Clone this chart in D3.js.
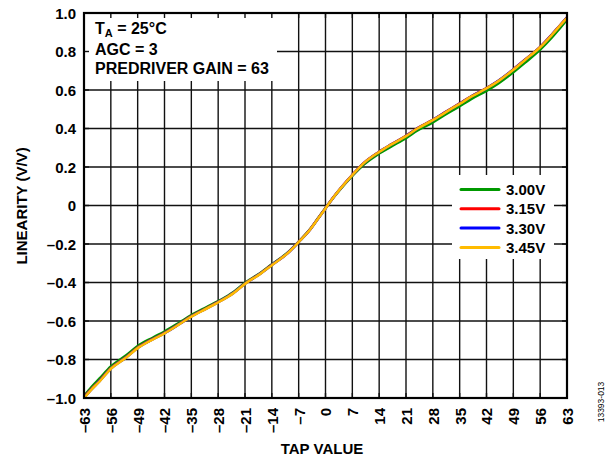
<!DOCTYPE html>
<html><head><meta charset="utf-8">
<script src="https://cdn.jsdelivr.net/npm/d3@7"></script>
<style>body{margin:0;background:#fff}svg{display:block}text{font-family:"Liberation Sans",Arial,sans-serif}</style>
</head><body>
<svg id="c" width="610" height="460"></svg>
<script>
const taps = [-63,-61,-59,-56,-52,-49,-45,-42,-38,-35,-31,-28,-24,-21,-17,-14,-10,-7,-4,-2,0,2,4,7,10,14,17,21,24,28,31,35,38,42,45,49,52,56,59,61,63];
const v300 = [-0.99,-0.942,-0.900,-0.836,-0.778,-0.730,-0.686,-0.655,-0.607,-0.570,-0.528,-0.497,-0.450,-0.402,-0.351,-0.306,-0.247,-0.188,-0.123,-0.068,-0.013,0.040,0.088,0.154,0.213,0.270,0.305,0.350,0.390,0.432,0.469,0.516,0.553,0.596,0.633,0.692,0.741,0.810,0.872,0.918,0.965];
const v315 = [-0.995,-0.952,-0.911,-0.845,-0.787,-0.738,-0.693,-0.662,-0.613,-0.575,-0.533,-0.501,-0.453,-0.405,-0.353,-0.308,-0.249,-0.189,-0.124,-0.069,-0.014,0.041,0.091,0.159,0.221,0.279,0.316,0.362,0.402,0.445,0.482,0.530,0.567,0.610,0.647,0.707,0.757,0.824,0.887,0.932,0.977];
const v330 = [-0.998,-0.954,-0.913,-0.847,-0.789,-0.740,-0.694,-0.663,-0.614,-0.576,-0.534,-0.502,-0.454,-0.406,-0.354,-0.309,-0.250,-0.190,-0.125,-0.070,-0.015,0.040,0.090,0.158,0.220,0.278,0.315,0.361,0.401,0.444,0.481,0.529,0.566,0.609,0.646,0.706,0.756,0.823,0.886,0.931,0.976];
const v345 = [-1.00,-0.955,-0.915,-0.848,-0.790,-0.741,-0.695,-0.664,-0.615,-0.577,-0.535,-0.503,-0.455,-0.407,-0.355,-0.310,-0.250,-0.190,-0.125,-0.070,-0.015,0.040,0.090,0.158,0.220,0.278,0.315,0.360,0.400,0.443,0.480,0.528,0.565,0.608,0.645,0.705,0.755,0.822,0.885,0.930,0.975];
const seriesNames = ["3.00V","3.15V","3.30V","3.45V"];
const seriesColors = ["#009900","#ff0000","#0000ff","#ffbb00"];
const xTicks = [-63,-56,-49,-42,-35,-28,-21,-14,-7,0,7,14,21,28,35,42,49,56,63];
const yTicks = [1.0,0.8,0.6,0.4,0.2,0,-0.2,-0.4,-0.6,-0.8,-1.0];
const annot = ["AGC = 3","PREDRIVER GAIN = 63"];

const series = [v300,v315,v330,v345];
const L=84,R=567,T=13,B=398;
const svg=d3.select("#c");
const x=d3.scaleLinear().domain([-63,63]).range([L,R]);
const y=d3.scaleLinear().domain([-1,1]).range([B,T]);
const fmtY=d=> d===0?"0":(d<0?"\u2013":"")+Math.abs(d).toFixed(1);
const fmtX=d=> d<0?"\u2013"+Math.abs(d):String(d);
const bold=s=>s.style("font-weight","bold").style("font-family","'Liberation Sans', Arial, sans-serif").attr("fill","#000");

// grid
const g=svg.append("g");
g.selectAll(".vg").data(xTicks).join("line").attr("x1",d=>x(d)).attr("x2",d=>x(d)).attr("y1",T).attr("y2",B).attr("stroke","#111").attr("stroke-width",1.4);
g.selectAll(".hg").data(yTicks).join("line").attr("y1",d=>y(d)).attr("y2",d=>y(d)).attr("x1",L).attr("x2",R).attr("stroke","#111").attr("stroke-width",1.4);

// curves
const line=d3.line().x((d,i)=>x(taps[i])).y(d=>y(d)).curve(d3.curveMonotoneX);
series.forEach((s,k)=>{
  svg.append("path").attr("d",line(s)).attr("fill","none").attr("stroke",seriesColors[k]).attr("stroke-width",2.6).attr("stroke-linejoin","round");
});

// white boxes
svg.append("rect").attr("x",L).attr("y",T).attr("width",277-L).attr("height",81-T).attr("fill","#fff");
svg.append("rect").attr("x",452).attr("y",175).attr("width",102).attr("height",84).attr("fill","#fff");

// inner ticks on frame
const tk=svg.append("g").attr("stroke","#111").attr("stroke-width",1.4);
xTicks.forEach(d=>{tk.append("line").attr("x1",x(d)).attr("x2",x(d)).attr("y1",T).attr("y2",T+5);tk.append("line").attr("x1",x(d)).attr("x2",x(d)).attr("y1",B).attr("y2",B-5);});
yTicks.forEach(d=>{tk.append("line").attr("y1",y(d)).attr("y2",y(d)).attr("x1",L).attr("x2",L+5);tk.append("line").attr("y1",y(d)).attr("y2",y(d)).attr("x1",R).attr("x2",R-5);});

// frame
svg.append("rect").attr("x",L).attr("y",T).attr("width",R-L).attr("height",B-T).attr("fill","none").attr("stroke","#000").attr("stroke-width",2.2);

// axes labels via d3 axes
const ax=svg.append("g").attr("transform",`translate(${L},0)`).call(d3.axisLeft(y).tickValues(yTicks).tickFormat(fmtY).tickSize(0).tickPadding(8));
ax.select(".domain").remove();
bold(ax.selectAll("text")).style("font-size","15px").attr("dy","0.36em");
const bx=svg.append("g").attr("transform",`translate(0,${B})`).call(d3.axisBottom(x).tickValues(xTicks).tickFormat(fmtX).tickSize(0));
bx.select(".domain").remove();
bold(bx.selectAll("text")).style("font-size","15px")
  .attr("transform","rotate(-90)").attr("text-anchor","end").attr("x",-10).attr("y",0).attr("dy","0.36em");

bold(svg.append("text").attr("x",322).attr("y",454).attr("text-anchor","middle")).style("font-size","15px").text("TAP VALUE");
bold(svg.append("text").attr("transform","translate(27,206) rotate(-90)").attr("text-anchor","middle")).style("font-size","15px").text("LINEARITY (V/V)");
svg.append("text").attr("transform","translate(604,402) rotate(-90)").attr("text-anchor","middle").style("font-size","8.5px").style("font-family","'Liberation Sans', Arial, sans-serif").attr("fill","#000").text("13393-013");

// annotation
const ta=bold(svg.append("text").attr("x",95).attr("y",34)).style("font-size","16px");
ta.append("tspan").text("T");
ta.append("tspan").style("font-size","11px").attr("dy",3).text("A");
ta.append("tspan").attr("dy",-3).text(" = 25°C");
annot.forEach((t,i)=>bold(svg.append("text").attr("x",95).attr("y",55+i*19)).style("font-size","16px").text(t));

// legend
seriesNames.forEach((n,i)=>{
  const yy=189.5+i*19.3;
  svg.append("line").attr("x1",461).attr("x2",499).attr("y1",yy).attr("y2",yy).attr("stroke",seriesColors[i]).attr("stroke-width",3).attr("stroke-linecap","round");
  bold(svg.append("text").attr("x",506).attr("y",yy+5.5)).style("font-size","15px").text(n);
});
</script></body></html>
